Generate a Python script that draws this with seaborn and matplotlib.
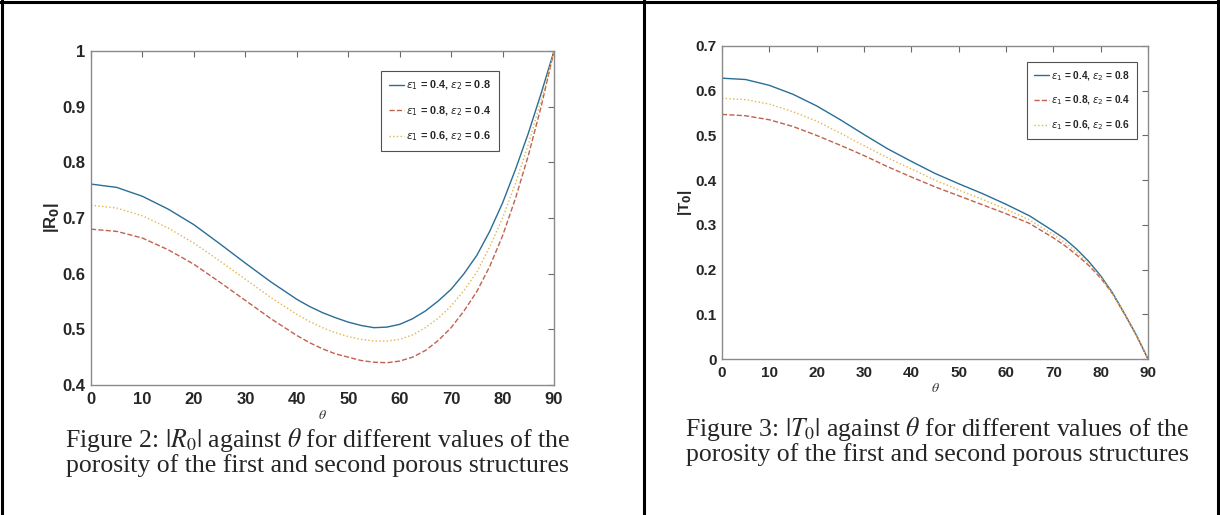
import matplotlib
matplotlib.use("Agg")
import matplotlib.pyplot as plt
from matplotlib.lines import Line2D
import seaborn as sns

# angle of incidence (degrees), finer where the curves bend more
theta_r = [0, 5, 10, 15, 20, 25, 30, 35, 40, 42.5, 45, 47.5, 50, 52.5, 55, 57.5,
           60, 62.5, 65, 67.5, 70, 72.5, 75, 77.5, 80, 82.5, 85, 87.5, 90]
theta_t = [0, 5, 10, 15, 20, 25, 30, 35, 40, 45, 50, 55, 60, 65,
           70, 72.5, 75, 77.5, 80, 82.5, 85, 87.5, 90]

# |R0| for the three porosity pairs
r0_a = [0.761, 0.755, 0.739, 0.716, 0.688, 0.654, 0.619, 0.585, 0.554, 0.541,
        0.530, 0.521, 0.513, 0.507, 0.503, 0.504, 0.509, 0.519, 0.533, 0.551,
        0.572, 0.600, 0.633, 0.676, 0.727, 0.787, 0.852, 0.924, 1.000]
r0_b = [0.680, 0.676, 0.664, 0.643, 0.617, 0.585, 0.552, 0.519, 0.489, 0.476,
        0.465, 0.456, 0.450, 0.444, 0.441, 0.440, 0.443, 0.450, 0.462, 0.480,
        0.503, 0.533, 0.568, 0.613, 0.668, 0.735, 0.812, 0.900, 1.000]
r0_c = [0.723, 0.718, 0.704, 0.682, 0.655, 0.623, 0.590, 0.557, 0.527, 0.514,
        0.503, 0.494, 0.487, 0.482, 0.479, 0.479, 0.482, 0.490, 0.503, 0.520,
        0.542, 0.570, 0.603, 0.648, 0.700, 0.762, 0.832, 0.912, 1.000]

# |T0| for the three porosity pairs
t0_a = [0.628, 0.625, 0.612, 0.592, 0.566, 0.535, 0.502, 0.470, 0.442, 0.415,
        0.392, 0.370, 0.346, 0.320, 0.286, 0.268, 0.245, 0.218, 0.186, 0.148,
        0.102, 0.054, 0.000]
t0_b = [0.547, 0.544, 0.535, 0.520, 0.500, 0.478, 0.455, 0.430, 0.407, 0.385,
        0.365, 0.345, 0.325, 0.303, 0.271, 0.253, 0.232, 0.209, 0.181, 0.146,
        0.101, 0.054, 0.000]
t0_c = [0.583, 0.580, 0.570, 0.553, 0.532, 0.505, 0.477, 0.450, 0.425, 0.400,
        0.378, 0.357, 0.335, 0.311, 0.278, 0.260, 0.238, 0.213, 0.183, 0.147,
        0.101, 0.054, 0.000]

labels = [r"$\epsilon_1$ = 0.4, $\epsilon_2$ = 0.8",
          r"$\epsilon_1$ = 0.8, $\epsilon_2$ = 0.4",
          r"$\epsilon_1$ = 0.6, $\epsilon_2$ = 0.6"]
colors = ["#2a6d96", "#c0624e", "#e2b54c"]
styles = ["-", "--", ":"]

sns.set_theme(style="white")
plt.rcParams["font.family"] = ["Liberation Sans", "DejaVu Sans"]

fig = plt.figure(figsize=(12.2, 5.15), dpi=100)
ax1 = fig.add_axes([0.0746, 0.2524, 0.3795, 0.6485])
ax2 = fig.add_axes([0.5918, 0.3029, 0.3492, 0.6078])


def draw_panel(ax, x, series, ylim, yticks, ylabel, tick_size, leg_size, anchor):
    for ys, lab, c, ls in zip(series, labels, colors, styles):
        sns.lineplot(x=x, y=ys, ax=ax, color=c, linestyle=ls, linewidth=1.0, label=lab)
    ax.set_xlim(0, 90)
    ax.set_ylim(*ylim)
    ax.set_xticks(range(0, 91, 10))
    ax.set_yticks(yticks)
    ax.set_yticklabels([f"{v:g}" for v in yticks])
    for s in ax.spines.values():
        s.set_color("#8a8a8a")
        s.set_linewidth(1.0)
    ax.tick_params(direction="in", top=True, right=True, length=4.5, width=0.8,
                   color="#6a6a6a", labelsize=tick_size, pad=4)
    ax.tick_params(axis="x", pad=5)
    for t in ax.get_xticklabels() + ax.get_yticklabels():
        t.set_fontweight("bold")
    ax.set_xlabel(r"$\theta$", fontsize=10, color="#333333", math_fontfamily="stix", labelpad=1)
    ax.set_ylabel(ylabel, fontsize=tick_size, fontweight="bold", labelpad=1)
    leg = ax.legend(loc="upper right", bbox_to_anchor=anchor, fontsize=leg_size,
                    frameon=True, fancybox=False, handlelength=1.4, handletextpad=0.2,
                    labelspacing=1.1, borderpad=0.7, borderaxespad=0)
    leg.get_frame().set_edgecolor("#262626")
    leg.get_frame().set_linewidth(0.8)
    for t in leg.get_texts():
        t.set_fontweight("bold")


draw_panel(ax1, theta_r, [r0_a, r0_b, r0_c], (0.4, 1.0), [0.4, 0.5, 0.6, 0.7, 0.8, 0.9, 1.0],
           r"|R$_{\mathbf{0}}$|", 12, 7.8, (0.881, 0.940))
draw_panel(ax2, theta_t, [t0_a, t0_b, t0_c], (0.0, 0.7), [0, 0.1, 0.2, 0.3, 0.4, 0.5, 0.6, 0.7],
           r"|T$_{\mathbf{0}}$|", 11, 7.3, (0.974, 0.949))

# captions
cap_kw = dict(ha="center", va="center", fontsize=18.5, family="Liberation Serif",
              fontweight="normal", math_fontfamily="stix")
fig.text(0.2600, 0.1455, r"Figure 2: $|R_0|$ against $\theta$ for different values of the", **cap_kw)
fig.text(0.2600, 0.0960, "porosity of the first and second porous structures", **cap_kw)
fig.text(0.7680, 0.1670, r"Figure 3: $|T_0|$ against $\theta$ for different values of the", **cap_kw)
fig.text(0.7680, 0.1175, "porosity of the first and second porous structures", **cap_kw)

# table borders around the two figure cells
border = dict(color="black", linewidth=2.2, transform=fig.transFigure)
fig.add_artist(Line2D([0, 1], [0.997, 0.997], **border))
fig.add_artist(Line2D([0.0015, 0.0015], [0, 1], **border))
fig.add_artist(Line2D([0.5275, 0.5275], [0, 1], **border))
fig.add_artist(Line2D([0.9985, 0.9985], [0, 1], **border))

fig.savefig("out.png", dpi=100, facecolor="white")
